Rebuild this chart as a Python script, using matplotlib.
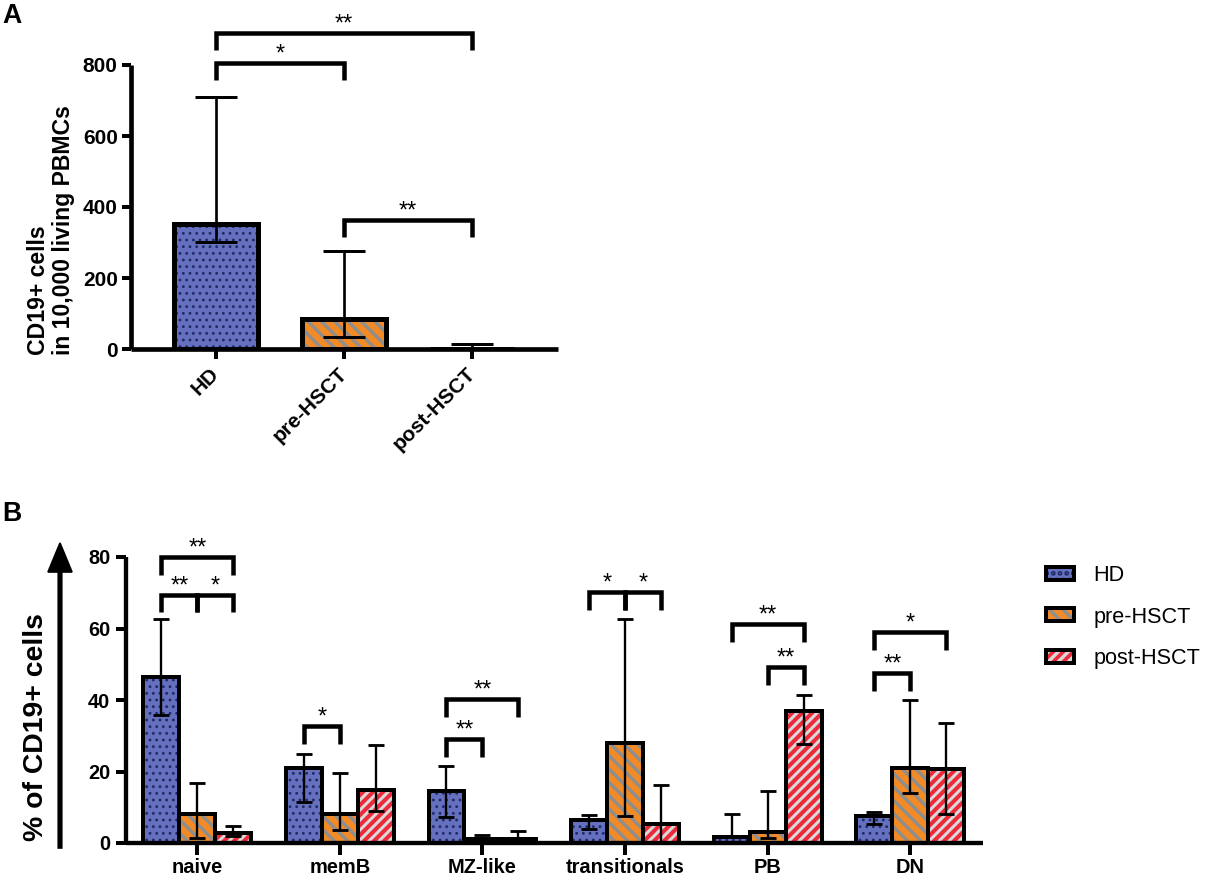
import matplotlib
matplotlib.use('Agg')
import matplotlib as mpl
import matplotlib.pyplot as plt
from matplotlib.patches import FancyArrow
from matplotlib.transforms import IdentityTransform
from matplotlib.legend_handler import HandlerTuple

plt.rcParams['font.family'] = ['Liberation Sans', 'DejaVu Sans']
plt.rcParams['hatch.linewidth'] = 2.0

DPI = 120
W, H = 1205, 876

# ---------------- data: panel A ----------------
groups = ['HD', 'pre-HSCT', 'post-HSCT']
a_val = [352, 84, 0]
a_hi = [710, 276, 13]
a_lo = [302, 35, 0]
a_sig = [(0, 1, 806, '*'), (0, 2, 890, '**'), (1, 2, 363, '**')]
a_yticks = [0, 200, 400, 600, 800]

# ---------------- data: panel B ----------------
cells = ['naive', 'memB', 'MZ-like', 'transitionals', 'PB', 'DN']
hd_val = [46.4, 20.9, 14.6, 6.4, 1.7, 7.5]
hd_hi = [62.6, 24.9, 21.4, 7.8, 8.0, 8.7]
hd_lo = [35.8, 11.5, 7.4, 3.8, 1.7, 5.4]
pre_val = [8.0, 8.0, 1.0, 28.0, 3.1, 20.9]
pre_hi = [16.9, 19.7, 2.1, 62.6, 14.6, 40.1]
pre_lo = [1.5, 3.6, 1.0, 7.6, 1.5, 14.1]
post_val = [2.9, 14.9, 1.0, 5.4, 36.9, 20.6]
post_hi = [4.8, 27.5, 3.4, 16.2, 41.5, 33.6]
post_lo = [2.0, 9.0, 1.0, 0.3, 27.7, 8.2]
# (cell index, group i, group j, bracket height, label)
b_sig = [(0, 0, 2, 80.1, '**'), (0, 0, 1, 69.5, '**'), (0, 1, 2, 69.5, '*'),
         (1, 0, 1, 32.6, '*'),
         (2, 0, 2, 40.3, '**'), (2, 0, 1, 29.1, '**'),
         (3, 0, 1, 70.3, '*'), (3, 1, 2, 70.3, '*'),
         (4, 0, 2, 61.2, '**'), (4, 1, 2, 49.2, '**'),
         (5, 0, 2, 59.0, '*'), (5, 0, 1, 47.6, '**')]
b_yticks = [0, 20, 40, 60, 80]

styles = {
    'HD': dict(face='#6570BE', hcol='#1F2A66', hatch='...', hlw=0.9),
    'pre-HSCT': dict(face='#F28A26', hcol='#8E8E8E', hatch='\\\\\\', hlw=2.0),
    'post-HSCT': dict(face='#EC2A3A', hcol='#DADADA', hatch='////', hlw=1.8),
}

fig = plt.figure(figsize=(W / DPI, H / DPI), dpi=DPI)


def set_hlw(p, lw):
    if hasattr(p, 'set_hatch_linewidth'):
        p.set_hatch_linewidth(lw)
    orig = p.draw

    def draw(renderer, _orig=orig, _lw=lw):
        with mpl.rc_context({'hatch.linewidth': _lw}):
            _orig(renderer)
    p.draw = draw


def draw_bars(ax, x, h, width, group, lw):
    st = styles[group]
    f = ax.bar(x, h, width, color=st['face'], edgecolor=st['hcol'],
               hatch=st['hatch'], linewidth=0, zorder=2)
    for p in f:
        set_hlw(p, st['hlw'])
    o = ax.bar(x, h, width, fill=False, edgecolor='black', linewidth=lw,
               zorder=3)
    return f, o


def bracket(ax, x1, x2, y, leg, text, lw, fs):
    ax.plot([x1, x1, x2, x2], [y - leg, y, y, y - leg], color='black',
            lw=lw, solid_joinstyle='miter', solid_capstyle='butt',
            clip_on=False, zorder=5)
    ax.annotate(text, xy=((x1 + x2) / 2, y), xytext=(0, 1.5),
                textcoords='offset points', ha='center', va='baseline',
                fontsize=fs, annotation_clip=False)


def style_axes(ax, lw):
    for s in ['top', 'right']:
        ax.spines[s].set_visible(False)
    for s in ['left', 'bottom']:
        ax.spines[s].set_linewidth(lw)
        ax.spines[s].set_capstyle('butt')


# ================= Panel A =================
axA = fig.add_axes([131 / W, 1 - 349 / H, 427 / W, 284 / H])
xa = list(range(len(groups)))
for i, g in enumerate(groups):
    draw_bars(axA, xa[i], a_val[i], 0.65, g, 3.0)
    axA.errorbar(xa[i], a_val[i],
                 yerr=[[a_val[i] - a_lo[i]], [a_hi[i] - a_val[i]]],
                 fmt='none', ecolor='black', elinewidth=1.6, capsize=12.5,
                 capthick=1.8, zorder=4, clip_on=False)
axA.set_xlim(-0.664, 2.672)
axA.set_ylim(0, 800)
axA.set_yticks(a_yticks)
axA.set_yticklabels([str(t) for t in a_yticks], fontsize=12.5, fontweight='bold')
axA.set_xticks(xa)
axA.set_xticklabels(groups, rotation=45, ha='right', va='center',
                    rotation_mode='anchor', fontsize=12.5, fontweight='bold')
axA.tick_params(axis='y', length=5.4, width=2.4, pad=2.6)
axA.tick_params(axis='x', length=6, width=2.4, pad=7)
style_axes(axA, 2.8)
for (i, j, y, t) in a_sig:
    bracket(axA, xa[i], xa[j], y, 48, t, 2.7, 14)
fig.text(51 / W, 1 - 355 / H, 'CD19+ cells\nin 10,000 living PBMCs',
         rotation=90, ha='center', va='bottom', multialignment='left',
         fontsize=13.8, fontweight='bold', linespacing=1.1)

# ================= Panel B =================
axB = fig.add_axes([126 / W, 1 - 843 / H, 857 / W, 286 / H])
xb = list(range(len(cells)))
off = 0.2525
bw = 0.25
series = [('HD', hd_val, hd_hi, hd_lo), ('pre-HSCT', pre_val, pre_hi, pre_lo),
          ('post-HSCT', post_val, post_hi, post_lo)]
leg_handles = []
for k, (g, v, hi, lo) in enumerate(series):
    xs = [x + (k - 1) * off for x in xb]
    f, o = draw_bars(axB, xs, v, bw, g, 2.4)
    leg_handles.append((f[0], o[0]))
    axB.errorbar(xs, v, yerr=[[a - b for a, b in zip(v, lo)],
                              [b - a for a, b in zip(v, hi)]],
                 fmt='none', ecolor='black', elinewidth=1.4, capsize=5,
                 capthick=1.7, zorder=4, clip_on=False)
axB.set_xlim(-0.5, 5.51)
axB.set_ylim(0, 80)
axB.set_yticks(b_yticks)
axB.set_yticklabels([str(t) for t in b_yticks], fontsize=12, fontweight='bold')
axB.set_xticks(xb)
axB.set_xticklabels(cells, fontsize=12, fontweight='bold')
axB.tick_params(axis='y', length=6, width=2.4, pad=3.5)
axB.tick_params(axis='x', length=7, width=2.4, pad=2)
style_axes(axB, 2.6)
for (c, i, j, y, t) in b_sig:
    bracket(axB, c + (i - 1) * off, c + (j - 1) * off, y, 5.0, t, 2.7, 14)

fig.text(36 / W, 1 - 727 / H, '% of CD19+ cells', rotation=90, ha='center',
         va='center', fontsize=17, fontweight='bold')

arrow = FancyArrow(60, H - 848, 0, 848 - 543, width=3.5, head_width=24,
                   head_length=29, length_includes_head=True,
                   color='black', transform=IdentityTransform())
fig.add_artist(arrow)

fig.legend(leg_handles, groups, loc='center left',
           bbox_to_anchor=(1046 / W, 1 - 617 / H), frameon=False,
           fontsize=13, handlelength=1.3, handleheight=0.55,
           handletextpad=0.9, labelspacing=0.95, borderpad=0,
           borderaxespad=0, handler_map={tuple: HandlerTuple(ndivide=1)})

fig.text(2 / W, 1 - 3 / H, 'A', ha='left', va='top', fontsize=16,
         fontweight='bold')
fig.text(2 / W, 1 - 501 / H, 'B', ha='left', va='top', fontsize=16,
         fontweight='bold')

fig.savefig('out.png', dpi=DPI)
